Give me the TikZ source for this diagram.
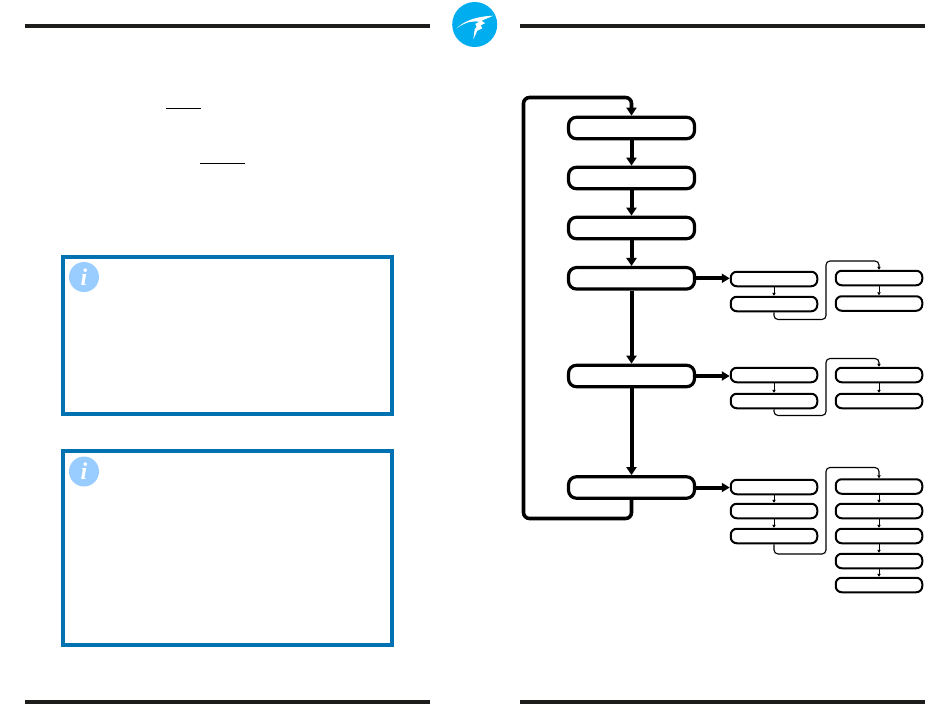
\documentclass[tikz,border=0pt]{standalone}
\usepackage{fontspec}
\setmainfont{Liberation Serif}
\usetikzlibrary{arrows.meta}
\definecolor{barc}{HTML}{1D1D1B}
\definecolor{noteblue}{HTML}{0072B2}
\definecolor{iconblue}{HTML}{99CCFF}
\definecolor{logoblue}{HTML}{00AEEF}
\tikzset{
  bar/.style={fill=barc,draw=none},
  mainbox/.style={draw=black,fill=white,line width=3.2pt,rounded corners=8pt,minimum width=126pt,minimum height=21.5pt,inner sep=0pt},
  subbox/.style={draw=black,fill=white,line width=2pt,rounded corners=6pt,minimum width=86.5pt,minimum height=14.5pt,inner sep=0pt},
  mainarrow/.style={draw=black,line width=4pt,-{Triangle[width=10pt,length=8pt]}},
  looparrow/.style={draw=black,line width=3.6pt,rounded corners=6pt,-{Triangle[width=10pt,length=8pt]}},
  sidearrow/.style={draw=black,line width=4pt,-{Triangle[width=9pt,length=8pt]}},
  subarrow/.style={draw=black,line width=.8pt,-{Triangle[width=3.5pt,length=3pt]}},
  jump/.style={draw=black,line width=1.1pt,rounded corners=4pt,-{Triangle[width=3.5pt,length=3pt]}},
  notebox/.style={draw=noteblue,line width=4pt,fill=white},
  icon/.style={circle,fill=iconblue,minimum size=30pt,inner sep=0pt},
  icontext/.style={text=white,font=\fontsize{24}{24}\selectfont\bfseries\itshape,inner sep=0pt}
}
\begin{document}
\begin{tikzpicture}[x=1pt,y=-1pt]
\useasboundingbox (0,0) rectangle (950,725);
% page rules
\fill[bar] (25,24) rectangle (430,28);
\fill[bar] (520,24) rectangle (925,28);
\fill[bar] (25,700) rectangle (430,704);
\fill[bar] (520,700) rectangle (925,704);
% logo
\fill[logoblue] (474.7,24.5) circle (22.5);
\fill[white] (456.7,28.3) .. controls (463,22) and (474,16.5) .. (493.3,15.7)
  -- (481.7,20.7) -- (485,23.3) -- (480.7,25.3) -- (482.3,28.3) -- (477.3,30.7) -- (473.3,39.3)
  -- (474.7,29.3) -- (476.7,26.7) -- (475.3,24) -- (479.3,21.7)
  .. controls (470,20.5) and (463,23.5) .. (456.7,28.3) -- cycle;
% underlines
\draw[line width=1pt] (166,108.3) -- (200.5,108.3);
\draw[line width=1pt] (200,163.3) -- (245,163.3);
% notes
\draw[notebox] (63,257) rectangle (392,414);
\draw[notebox] (63,451) rectangle (392,645);
\node[icon] (ia) at (84,277) {};
\node[icontext] at (ia.center) {i};
\node[icon] (ib) at (84,471.5) {};
\node[icontext] at (ib.center) {i};
% main column
\node[mainbox] (m1) at (631.5,128) {};
\node[mainbox] (m2) at (631.5,178) {};
\node[mainbox] (m3) at (631.5,228) {};
\node[mainbox] (m4) at (631.5,278.3) {};
\node[mainbox] (m5) at (631.5,376) {};
\node[mainbox] (m6) at (631.5,487.5) {};
\draw[mainarrow] (m1) -- (m2);
\draw[mainarrow] (m2) -- (m3);
\draw[mainarrow] (m3) -- (m4);
\draw[mainarrow] (m4) -- (m5);
\draw[mainarrow] (m5) -- (m6);
\coordinate (lb) at (523.5,518.5);
\coordinate (lt) at (523.5,97.5);
\draw[looparrow] (m6.south) |- (lb) -- (lt) -| (m1.north);
% sub boxes group 1
\node[subbox] (a1) at (774,279) {};
\node[subbox] (a2) at (774,304) {};
\node[subbox] (a3) at (879,278) {};
\node[subbox] (a4) at (879,303.5) {};
% group 2
\node[subbox] (b1) at (774,375) {};
\node[subbox] (b2) at (774,401) {};
\node[subbox] (b3) at (879,375) {};
\node[subbox] (b4) at (879,401) {};
% group 3
\node[subbox] (c1) at (774,487) {};
\node[subbox] (c2) at (774,511) {};
\node[subbox] (c3) at (774,536) {};
\node[subbox] (c4) at (879,486.5) {};
\node[subbox] (c5) at (879,511) {};
\node[subbox] (c6) at (879,536) {};
\node[subbox] (c7) at (879,561) {};
\node[subbox] (c8) at (879,585) {};
% side arrows
\draw[sidearrow] (m4.east) -- (m4.east -| a1.west);
\draw[sidearrow] (m5.east) -- (m5.east -| b1.west);
\draw[sidearrow] (m6.east) -- (m6.east -| c1.west);
% sub arrows
\draw[subarrow] (a1) -- (a2);
\draw[subarrow] (a3) -- (a4);
\draw[subarrow] (b1) -- (b2);
\draw[subarrow] (b3) -- (b4);
\draw[subarrow] (c1) -- (c2);
\draw[subarrow] (c2) -- (c3);
\draw[subarrow] (c4) -- (c5);
\draw[subarrow] (c5) -- (c6);
\draw[subarrow] (c6) -- (c7);
\draw[subarrow] (c7) -- (c8);
% jumps
\coordinate (ja) at (826,319.5);
\coordinate (jb) at (826,261);
\draw[jump] (a2.south) |- (ja) -- (jb) -| (a3.north);
\coordinate (jc) at (826,415.5);
\coordinate (jd) at (826,358.5);
\draw[jump] (b2.south) |- (jc) -- (jd) -| (b3.north);
\coordinate (je) at (826,554);
\coordinate (jf) at (826,467.5);
\draw[jump] (c3.south) |- (je) -- (jf) -| (c4.north);
\end{tikzpicture}
\end{document}
